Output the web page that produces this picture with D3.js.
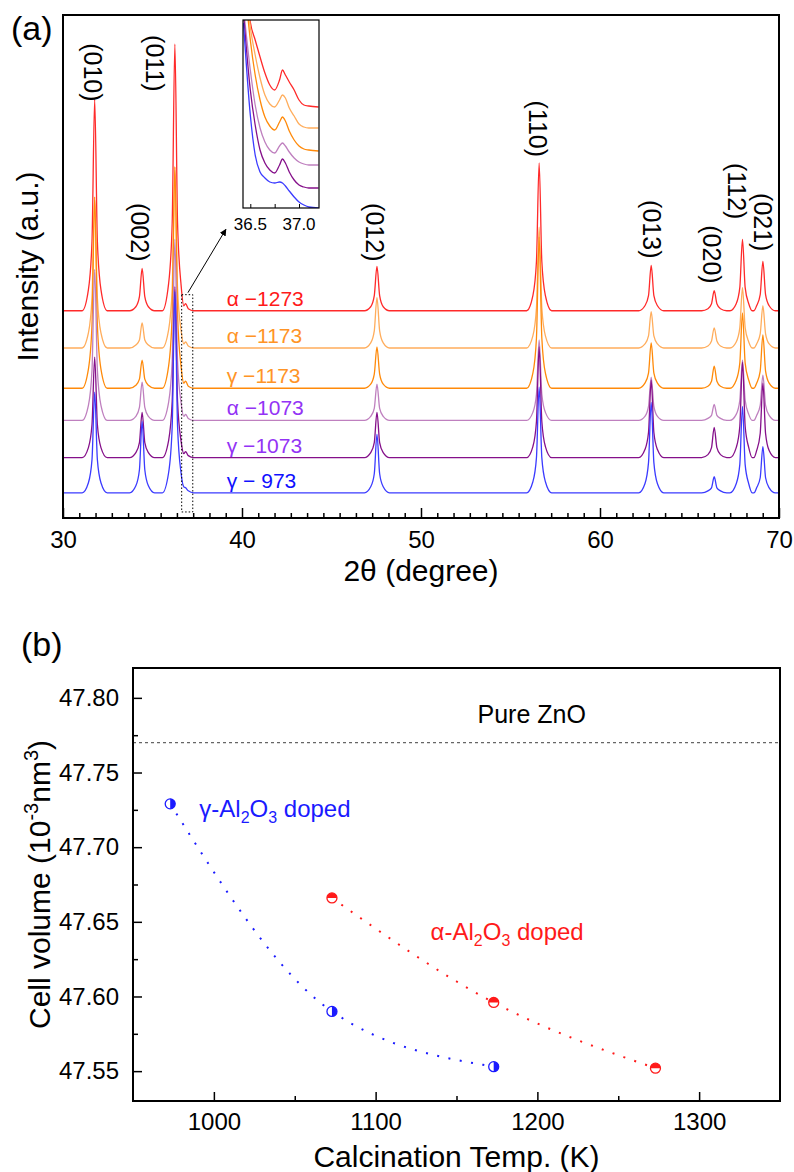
<!DOCTYPE html>
<html>
<head>
<meta charset="utf-8">
<script src="https://cdn.jsdelivr.net/npm/d3@7"></script>
<style>
  body { margin: 0; background: #fff; }
  svg { display: block; }
</style>
</head>
<body>
<svg id="fig" width="794" height="1172"></svg>
<script>
// ---------- panel (a): XRD patterns ----------
var twoTheta = [30.0,
  31.07, 31.42, 31.62, 31.77, 31.92, 32.12, 32.47,
  33.72, 34.07, 34.27, 34.42, 34.57, 34.77, 35.12,
  35.55, 35.90, 36.10, 36.25, 36.40, 36.60, 36.75, 36.85, 37.00, 37.30,
  46.84, 47.19, 47.39, 47.54, 47.69, 47.89, 48.24,
  55.90, 56.25, 56.45, 56.60, 56.75, 56.95, 57.30,
  62.16, 62.51, 62.71, 62.86, 63.01, 63.21, 63.56,
  65.68, 66.03, 66.23, 66.38, 66.53, 66.73, 67.08,
  67.26, 67.61, 67.81, 67.96, 68.11, 68.31, 68.50,
  68.60, 68.75, 68.95, 69.10, 69.25, 69.45, 69.80,
  70.0];

var iA1273 = [0,
  0, 21, 69, 210, 69, 21, 0,
  0, 4, 14, 42, 14, 4, 0,
  0, 27, 87, 265, 87, 25, 5, 7, 2, 0,
  0, 4, 15, 44, 15, 4, 0,
  0, 15, 49, 147, 49, 15, 0,
  0, 5, 15, 45, 15, 5, 0,
  0, 2, 7, 20, 7, 2, 0,
  0, 7, 23, 71, 23, 7, 0,
  0, 5, 16, 49, 16, 5, 0,
  0];
var iA1173 = [0,
  0, 15, 50, 150, 50, 15, 0,
  0, 3, 8, 25, 8, 3, 0,
  0, 18, 59, 180, 59, 17, 4, 6, 2, 0,
  0, 5, 17, 50, 17, 5, 0,
  0, 12, 40, 120, 40, 12, 0,
  0, 4, 12, 36, 12, 4, 0,
  0, 2, 7, 20, 7, 2, 0,
  0, 6, 20, 60, 20, 6, 0,
  0, 4, 14, 42, 14, 4, 0,
  0];
var iG1173 = [0,
  0, 19, 63, 190, 63, 19, 0,
  0, 3, 9, 28, 9, 3, 0,
  0, 22, 73, 220, 73, 21, 5, 7, 2, 0,
  0, 4, 14, 41, 14, 4, 0,
  0, 15, 50, 150, 50, 15, 0,
  0, 5, 15, 45, 15, 5, 0,
  0, 2, 7, 22, 7, 2, 0,
  0, 8, 25, 75, 25, 8, 0,
  0, 5, 17, 53, 17, 5, 0,
  0];
var iA1073 = [0,
  0, 15, 50, 150, 50, 15, 0,
  0, 4, 13, 38, 13, 4, 0,
  0, 18, 59, 180, 59, 17, 4, 6, 2, 0,
  0, 4, 12, 36, 12, 4, 0,
  0, 8, 26, 80, 26, 8, 0,
  0, 4, 14, 43, 14, 4, 0,
  0, 2, 5, 16, 5, 2, 0,
  0, 6, 20, 60, 20, 6, 0,
  0, 5, 15, 45, 15, 5, 0,
  0];
var iG1073 = [0,
  0, 10, 33, 100, 33, 10, 0,
  0, 5, 15, 45, 15, 5, 0,
  0, 17, 56, 170, 56, 16, 4, 6, 2, 0,
  0, 5, 15, 45, 15, 5, 0,
  0, 11, 36, 110, 36, 11, 0,
  0, 8, 25, 77, 25, 8, 0,
  0, 3, 10, 30, 10, 3, 0,
  0, 10, 31, 95, 31, 10, 0,
  0, 7, 24, 74, 24, 7, 0,
  0];
var iG973 = [0,
  0, 10, 33, 100, 33, 10, 0,
  0, 7, 23, 71, 23, 7, 0,
  0, 20, 66, 200, 66, 19, 6, 5, 2, 0,
  0, 6, 19, 58, 19, 6, 0,
  0, 11, 35, 105, 35, 11, 0,
  0, 9, 30, 90, 30, 9, 0,
  0, 2, 5, 16, 5, 2, 0,
  0, 9, 28, 86, 28, 9, 0,
  0, 5, 15, 46, 15, 5, 0,
  0];

var sampleLabels = ["\u03b1 \u22121273", "\u03b1 \u22121173", "\u03b3 \u22121173",
                    "\u03b1 \u22121073", "\u03b3 \u22121073", "\u03b3 \u2212 973"];
var stackOffsets = [206, 169, 129, 97, 60, 25];

// inset: tail of (011) and the weak reflection near 36.85
var insetTheta = [36.43, 36.50, 36.55, 36.60, 36.65, 36.70, 36.75, 36.80,
                  36.83, 36.86, 36.90, 36.95, 37.00, 37.05, 37.10, 37.20];
var insA1273 = [260, 186, 168, 151, 135, 123, 118, 128, 138, 133, 126, 118, 108, 103, 102, 101];
var insA1173 = [250, 181, 153, 130, 113, 104, 101, 108, 113, 110, 100, 92, 84, 81, 80, 80];
var insG1173 = [240, 168, 133, 108, 91, 82, 78, 86, 91, 87, 77, 68, 62, 59, 58, 57];
var insA1073 = [200, 138, 103, 80, 66, 58, 55, 62, 65, 62, 56, 50, 46, 44, 43, 43];
var insG1073 = [195, 118, 83, 58, 45, 38, 35, 43, 49, 45, 36, 28, 23, 21, 20, 20];
var insG973  = [185, 93, 53, 36, 30, 26, 25, 26, 25, 22, 17, 11, 6, 3, 1, 0];

var peakNames = ["(010)", "(002)", "(011)", "(012)", "(110)", "(013)", "(020)", "(112)", "(021)"];
var xTicksA = [30, 40, 50, 60, 70];
var insetTicks = [36.5, 37.0];

// ---------- panel (b): cell volume ----------
var tempGamma = [973, 1073, 1173];
var volGamma = [47.729, 47.590, 47.553];
var tempAlpha = [1073, 1173, 1273];
var volAlpha = [47.666, 47.596, 47.552];
var pureZnO = 47.770;
var xTicksB = [1000, 1100, 1200, 1300];
var yTicksB = [47.55, 47.60, 47.65, 47.70, 47.75, 47.80];

var font = "Arial, 'Liberation Sans', sans-serif";
var traceColors = ["#ff2a2a", "#ffad5c", "#ff8a0a", "#bf80bf", "#85108a", "#3b3bff"];
var labelColors = ["#ff1a1a", "#ff9426", "#ff9426", "#9333f5", "#9333f5", "#1010ff"];

var svg = d3.select("#fig").attr("font-family", font);

// ===== panel (a) =====
var xA = d3.scaleLinear().domain([30, 70]).range([63, 779]),
    yA = d3.scaleLinear().domain([0, 500]).range([518, 15]);

svg.append("clipPath").attr("id", "clipA")
    .append("rect").attr("x", 63).attr("y", 15).attr("width", 716).attr("height", 503);

var traces = [iA1273, iA1173, iG1173, iA1073, iG1073, iG973];
var gA = svg.append("g").attr("clip-path", "url(#clipA)");

traces.forEach(function (vals, k) {
    var line = d3.line()
        .x(function (d, i) { return xA(twoTheta[i]); })
        .y(function (d) { return yA(d + stackOffsets[k]); })
        .curve(d3.curveMonotoneX);
    gA.append("path")
        .datum(vals)
        .attr("d", line)
        .attr("fill", "none")
        .attr("stroke", traceColors[k])
        .attr("stroke-width", 1.3);
});

// sample labels
sampleLabels.forEach(function (t, k) {
    svg.append("text")
        .attr("x", xA(39.15))
        .attr("y", yA(stackOffsets[k]) - 5)
        .attr("font-size", 21)
        .attr("fill", labelColors[k])
        .text(t);
});

// peak labels (rotated)
var peakLabelPos = [[31.68, 472], [34.30, 313], [35.14, 480], [47.43, 313], [56.54, 415],
                    [62.91, 316], [66.26, 291], [67.65, 353], [69.11, 323]];
peakNames.forEach(function (t, k) {
    svg.append("text")
        .attr("transform", "translate(" + xA(peakLabelPos[k][0]) + "," + yA(peakLabelPos[k][1]) + ") rotate(90)")
        .attr("dy", "0.35em")
        .attr("font-size", 25)
        .text(t);
});

// zoom box and arrow
svg.append("rect")
    .attr("x", xA(36.63)).attr("y", yA(222))
    .attr("width", xA(37.25) - xA(36.63)).attr("height", yA(6) - yA(222))
    .attr("fill", "none").attr("stroke", "#000").attr("stroke-width", 1)
    .attr("stroke-dasharray", "1.5,2");

svg.append("defs").append("marker")
    .attr("id", "arr").attr("viewBox", "0 0 10 10")
    .attr("refX", 9).attr("refY", 5)
    .attr("markerWidth", 7).attr("markerHeight", 7)
    .attr("orient", "auto")
    .append("path").attr("d", "M0,0 L10,5 L0,10 z").attr("fill", "#000");

svg.append("line")
    .attr("x1", xA(36.98)).attr("y1", yA(224))
    .attr("x2", xA(39.1)).attr("y2", yA(287))
    .attr("stroke", "#000").attr("stroke-width", 1)
    .attr("marker-end", "url(#arr)");

// axes panel (a)
var minorA = [];
xTicksA.slice(0, -1).forEach(function (a) {
    for (var k = 1; k <= 10; k++) minorA.push(a + k * 10 / 11);
});
var axA = svg.append("g").attr("transform", "translate(0,518)")
    .call(d3.axisBottom(xA).tickValues(xTicksA).tickSize(-10).tickPadding(13).tickFormat(d3.format("d")));
axA.attr("font-family", font).attr("font-size", 24);
axA.select(".domain").remove();
axA.selectAll("line").attr("stroke-width", 1.5);
axA.selectAll("text").attr("fill", "#000");
var axAm = svg.append("g").attr("transform", "translate(0,518)")
    .call(d3.axisBottom(xA).tickValues(minorA).tickSize(-5).tickFormat(""));
axAm.select(".domain").remove();
axAm.selectAll("line").attr("stroke-width", 1.5);

svg.append("rect").attr("x", 63).attr("y", 15).attr("width", 716).attr("height", 503)
    .attr("fill", "none").attr("stroke", "#000").attr("stroke-width", 2);

svg.append("text").attr("x", 421).attr("y", 581).attr("text-anchor", "middle")
    .attr("font-size", 30).text("2\u03b8 (degree)");
svg.append("text").attr("transform", "translate(38,266.5) rotate(-90)")
    .attr("text-anchor", "middle").attr("font-size", 30).text("Intensity (a.u.)");
svg.append("text").attr("x", 11).attr("y", 40).attr("font-size", 34).text("(a)");

// ----- inset -----
var xI = d3.scaleLinear().domain([36.425, 37.205]).range([243, 319]),
    yI = d3.scaleLinear().domain([0, 188]).range([208, 20]);
svg.append("rect").attr("x", 243).attr("y", 20).attr("width", 76).attr("height", 188).attr("fill", "#fff");
svg.append("clipPath").attr("id", "clipI")
    .append("rect").attr("x", 243).attr("y", 20).attr("width", 76).attr("height", 188);
var gI = svg.append("g").attr("clip-path", "url(#clipI)");
[insA1273, insA1173, insG1173, insA1073, insG1073, insG973].forEach(function (vals, k) {
    var line = d3.line()
        .x(function (d, i) { return xI(insetTheta[i]); })
        .y(function (d) { return yI(d); })
        .curve(d3.curveMonotoneX);
    gI.append("path").datum(vals).attr("d", line)
        .attr("fill", "none").attr("stroke", traceColors[k]).attr("stroke-width", 1.3);
});
var axI = svg.append("g").attr("transform", "translate(0,208)")
    .call(d3.axisBottom(xI).tickValues([36.5, 36.75, 37.0]).tickSize(-4).tickFormat(""));
axI.select(".domain").remove();
insetTicks.forEach(function (t) {
    svg.append("text").attr("x", xI(t)).attr("y", 230).attr("text-anchor", "middle")
        .attr("font-size", 17).text(d3.format(".1f")(t));
});
svg.append("rect").attr("x", 243).attr("y", 20).attr("width", 76).attr("height", 188)
    .attr("fill", "none").attr("stroke", "#000").attr("stroke-width", 1.2);

// ===== panel (b) =====
var xB = d3.scaleLinear().domain([950, 1350]).range([133, 780]),
    yB = d3.scaleLinear().domain([47.53, 47.82]).range([1101, 668]);

svg.append("line")
    .attr("x1", 133).attr("x2", 780)
    .attr("y1", yB(pureZnO)).attr("y2", yB(pureZnO))
    .attr("stroke", "#666").attr("stroke-width", 1.2).attr("stroke-dasharray", "3,3");

function dotted(temps, vols, color) {
    var pts = temps.map(function (t, i) { return [t, vols[i]]; });
    svg.append("path").datum(pts)
        .attr("d", d3.line().x(function (d) { return xB(d[0]); }).y(function (d) { return yB(d[1]); })
            .curve(d3.curveMonotoneX))
        .attr("fill", "none").attr("stroke", color).attr("stroke-width", 2)
        .attr("stroke-dasharray", "2,9.5");
    var g = svg.append("g").selectAll("g").data(pts).enter().append("g")
        .attr("transform", function (d) { return "translate(" + xB(d[0]) + "," + yB(d[1]) + ")"; });
    g.append("circle").attr("r", 5).attr("fill", "#fff").attr("stroke", color).attr("stroke-width", 1.3);
    return g;
}
dotted(tempGamma, volGamma, "#1a1aff")
    .append("path").attr("d", "M0,-5 A5,5 0 0,1 0,5 Z").attr("fill", "#1a1aff");
dotted(tempAlpha, volAlpha, "#ff1a1a")
    .append("path").attr("d", "M-5,0 A5,5 0 0,1 5,0 Z").attr("fill", "#ff1a1a");

// axes panel (b)
var axBx = svg.append("g").attr("transform", "translate(0,1101)")
    .call(d3.axisBottom(xB).tickValues(xTicksB).tickSize(-9).tickPadding(12).tickFormat(d3.format("d")));
var axBxm = svg.append("g").attr("transform", "translate(0,1101)")
    .call(d3.axisBottom(xB).tickValues([1050, 1150, 1250]).tickSize(-5).tickFormat(""));
var axBy = svg.append("g").attr("transform", "translate(133,0)")
    .call(d3.axisLeft(yB).tickValues(yTicksB).tickSize(-9).tickPadding(14).tickFormat(d3.format(".2f")));
var axBym = svg.append("g").attr("transform", "translate(133,0)")
    .call(d3.axisLeft(yB).tickValues([47.575, 47.625, 47.675, 47.725, 47.775]).tickSize(-5).tickFormat(""));
[axBx, axBxm, axBy, axBym].forEach(function (a) {
    a.attr("font-family", font).attr("font-size", 24);
    a.select(".domain").remove();
    a.selectAll("line").attr("stroke-width", 1.5);
    a.selectAll("text").attr("fill", "#000");
});

svg.append("rect").attr("x", 133).attr("y", 668).attr("width", 647).attr("height", 433)
    .attr("fill", "none").attr("stroke", "#000").attr("stroke-width", 2);

svg.append("text").attr("x", xB(1163)).attr("y", yB(47.783)).attr("font-size", 25).text("Pure ZnO");

function dopedLabel(x, y, greek, color) {
    var t = svg.append("text").attr("x", x).attr("y", y).attr("font-size", 24).attr("fill", color);
    t.append("tspan").text(greek + "-Al");
    t.append("tspan").attr("font-size", 16).attr("dy", 6).text("2");
    t.append("tspan").attr("dy", -6).text("O");
    t.append("tspan").attr("font-size", 16).attr("dy", 6).text("3");
    t.append("tspan").attr("dy", -6).text(" doped");
}
dopedLabel(xB(991), yB(47.720), "\u03b3", "#1a1aff");
dopedLabel(xB(1134), yB(47.638), "\u03b1", "#ff1a1a");

svg.append("text").attr("x", 456.5).attr("y", 1167).attr("text-anchor", "middle")
    .attr("font-size", 30).text("Calcination Temp. (K)");

var yt = svg.append("text").attr("transform", "translate(50,884.5) rotate(-90)")
    .attr("text-anchor", "middle").attr("font-size", 30);
yt.append("tspan").text("Cell volume (10");
yt.append("tspan").attr("font-size", 20).attr("dy", -12).text("-3");
yt.append("tspan").attr("dy", 12).text("nm");
yt.append("tspan").attr("font-size", 20).attr("dy", -12).text("3");
yt.append("tspan").attr("dy", 12).text(")");

svg.append("text").attr("x", 21).attr("y", 656).attr("font-size", 34).text("(b)");
</script>
</body>
</html>
